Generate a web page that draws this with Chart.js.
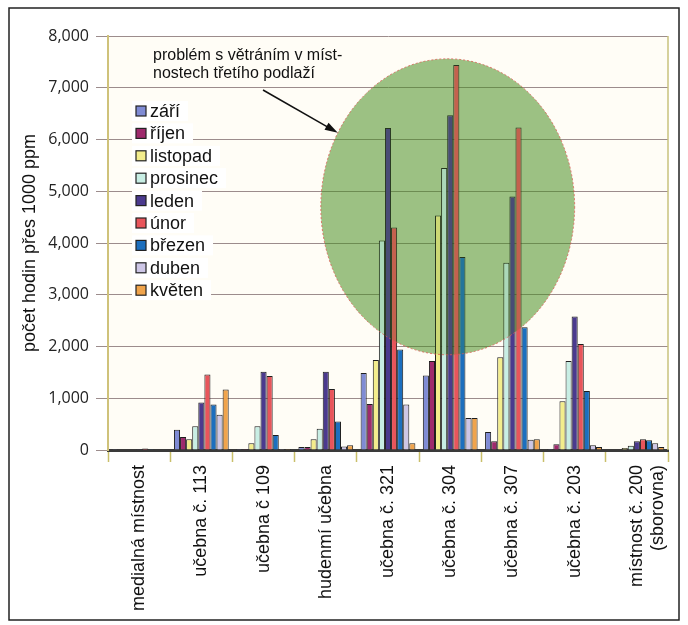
<!DOCTYPE html>
<html>
<head>
<meta charset="utf-8">
<script src="https://cdn.jsdelivr.net/npm/chart.js@4.4.0/dist/chart.umd.min.js"></script>
<style>
  body { margin: 0; background: #fff; }
  canvas { display: block; }
</style>
</head>
<body>
<canvas id="roomChart" width="688" height="625"></canvas>
<script>
// rooms on the x axis
const rooms = [
    'medialná místnost',
    'učebna č. 113',
    'učebna č 109',
    'hudenmí učebna',
    'učebna č. 321',
    'učebna č. 304',
    'učebna č. 307',
    'učebna č. 203',
    ['místnost č. 200', '(sborovna)'],
];

const months = ['září', 'říjen', 'listopad', 'prosinec', 'leden', 'únor', 'březen', 'duben', 'květen'];

// hours over 1000 ppm, one array per month
const zari     = [15, 390, 20, 60, 1490, 1440, 350, 20, 10];
const rijen    = [10, 250, 20, 60, 890, 1720, 170, 110, 10];
const listopad = [10, 210, 130, 210, 1740, 4530, 1790, 940, 40];
const prosinec = [10, 460, 460, 410, 4050, 5450, 3620, 1720, 80];
const leden    = [15, 920, 1510, 1510, 6220, 6470, 4900, 2580, 170];
const unor     = [30, 1460, 1430, 1180, 4300, 7440, 6230, 2050, 210];
const brezen   = [15, 880, 290, 550, 1940, 3730, 2370, 1140, 190];
const duben    = [10, 680, 20, 70, 880, 620, 200, 90, 130];
const kveten   = [10, 1170, 20, 90, 130, 620, 210, 60, 60];

const yTicks = [0, 1000, 2000, 3000, 4000, 5000, 6000, 7000, 8000];

const seriesValues = [zari, rijen, listopad, prosinec, leden, unor, brezen, duben, kveten];
const seriesColors = ['#7f8bd4', '#9e2a6c', '#f3ed8c', '#c8eee4', '#4b3a8e', '#e8555b', '#1c6fbe', '#cdc6e6', '#f0a44c'];

const FONT = 'Arial, "Liberation Sans", sans-serif';

// background, plot wall and outer frame
const framePlugin = {
    id: 'frame',
    beforeDraw(chart) {
        const { ctx, chartArea: a } = chart;
        ctx.save();
        ctx.fillStyle = '#fff';
        ctx.fillRect(0, 0, chart.width, chart.height);
        ctx.fillStyle = '#fffdf6';
        ctx.fillRect(a.left, a.top, a.right - a.left, a.bottom - a.top);
        ctx.restore();
    },
    afterDraw(chart) {
        const ctx = chart.ctx;
        ctx.save();
        ctx.strokeStyle = '#222';
        ctx.lineWidth = 1.5;
        ctx.strokeRect(9, 8, chart.width - 18, chart.height - 13);
        ctx.restore();
    },
};

// green ellipse over the third-floor rooms: a wash behind the bars and a light tint over them
function ellipsePath(chart) {
    const { ctx, scales: { x, y } } = chart;
    const cx = x.getPixelForValue(4.96);
    const cy = y.getPixelForValue(4700);
    const rx = (x.getPixelForValue(1) - x.getPixelForValue(0)) * 2.04;
    const ry = y.getPixelForValue(0) - y.getPixelForValue(2860);
    ctx.beginPath();
    ctx.ellipse(cx, cy, rx, ry, 0, 0, Math.PI * 2);
    return { cx, cy, rx, ry };
}

const ellipsePlugin = {
    id: 'ellipse',
    beforeDatasetsDraw(chart) {
        const { ctx, chartArea: a } = chart;
        ctx.save();
        ctx.strokeStyle = '#c9c27c';
        ctx.lineWidth = 1.5;
        ctx.beginPath();
        ctx.moveTo(a.right, a.top);
        ctx.lineTo(a.right, a.bottom);
        ctx.stroke();
        ellipsePath(chart);
        ctx.fillStyle = 'rgba(70, 140, 30, 0.4)';
        ctx.fill();
        ctx.restore();
    },
    afterDatasetsDraw(chart) {
        const ctx = chart.ctx;
        ctx.save();
        chart.$ellipse = ellipsePath(chart);
        ctx.fillStyle = 'rgba(70, 140, 30, 0.22)';
        ctx.fill();
        ctx.setLineDash([2, 2]);
        ctx.strokeStyle = 'rgba(220, 90, 80, 0.8)';
        ctx.lineWidth = 1;
        ctx.stroke();
        ctx.restore();
    },
};

// note text, arrow and the legend inside the plot
const notePlugin = {
    id: 'note',
    afterDraw(chart) {
        const { ctx, chartArea: a } = chart;
        const e = chart.$ellipse;
        ctx.save();

        ctx.fillStyle = '#111';
        ctx.font = '16px ' + FONT;
        ctx.textBaseline = 'middle';
        ctx.fillText('problém s větráním v míst-', a.left + 45, a.top + 20);
        ctx.fillText('nostech třetího podlaží', a.left + 45, a.top + 38);

        // arrow
        const t = Math.PI / 6;
        const hx = e.cx - e.rx * Math.cos(t);
        const hy = e.cy - e.ry * Math.sin(t);
        const tx = a.left + 155;
        const ty = a.top + 54;
        const ang = Math.atan2(hy - ty, hx - tx);
        ctx.strokeStyle = '#111';
        ctx.lineWidth = 1.5;
        ctx.beginPath();
        ctx.moveTo(tx, ty);
        ctx.lineTo(hx - 10 * Math.cos(ang), hy - 10 * Math.sin(ang));
        ctx.stroke();
        ctx.fillStyle = '#111';
        ctx.beginPath();
        ctx.moveTo(hx, hy);
        ctx.lineTo(hx - 13 * Math.cos(ang) + 4 * Math.sin(ang), hy - 13 * Math.sin(ang) - 4 * Math.cos(ang));
        ctx.lineTo(hx - 13 * Math.cos(ang) - 4 * Math.sin(ang), hy - 13 * Math.sin(ang) + 4 * Math.cos(ang));
        ctx.closePath();
        ctx.fill();

        // legend
        ctx.font = '18px ' + FONT;
        const lx = a.left + 28;
        chart.data.datasets.forEach((ds, i) => {
            const cy = a.top + 75 + i * 22.4;
            const w = ctx.measureText(ds.label).width;
            ctx.fillStyle = '#fff';
            ctx.fillRect(lx - 4, cy - 10, w + 26, 20);
            ctx.fillStyle = ds.backgroundColor;
            ctx.fillRect(lx, cy - 5, 10, 10);
            ctx.strokeStyle = '#222';
            ctx.lineWidth = 1.2;
            ctx.strokeRect(lx, cy - 5, 10, 10);
            ctx.fillStyle = '#111';
            ctx.fillText(ds.label, lx + 14, cy + 1);
        });
        ctx.restore();
    },
};

const ctx = document.getElementById('roomChart').getContext('2d');
new Chart(ctx, {
    type: 'bar',
    data: {
        labels: rooms,
        datasets: months.map((m, i) => ({
            label: m,
            data: seriesValues[i],
            backgroundColor: seriesColors[i],
            borderColor: '#1e1e1e',
            borderWidth: 1,
            barPercentage: 1,
            categoryPercentage: 0.88,
        })),
    },
    options: {
        responsive: false,
        animation: false,
        devicePixelRatio: 1,
        layout: {
            padding: { left: 10, right: 20, top: 36, bottom: 0 },
        },
        plugins: {
            legend: { display: false },
            tooltip: { enabled: false },
        },
        scales: {
            x: {
                afterFit(scale) { scale.height = 175; },
                grid: {
                    drawOnChartArea: false,
                    tickLength: 12,
                    tickColor: '#c9bf6a',
                    tickWidth: 1.5,
                },
                border: { color: '#3a3a3a', width: 3 },
                ticks: {
                    autoSkip: false,
                    maxRotation: 90,
                    minRotation: 90,
                    padding: 3,
                    color: '#111',
                    font: { family: FONT, size: 18 },
                },
            },
            y: {
                min: 0,
                max: 8000,
                afterFit(scale) { scale.width = 98; },
                afterBuildTicks(scale) {
                    scale.ticks = yTicks.map(v => ({ value: v }));
                },
                grid: {
                    color: '#9c8c8c',
                    tickLength: 12,
                    tickColor: '#9c8c8c',
                },
                border: { color: '#cfc27a', width: 2 },
                ticks: {
                    padding: 7,
                    color: '#222',
                    font: { family: '"Open Sans", sans-serif', size: 16 },
                    callback: v => v.toLocaleString('en-US'),
                },
                title: {
                    display: true,
                    text: 'počet hodin přes 1000 ppm',
                    color: '#111',
                    font: { family: FONT, size: 18 },
                    padding: { top: 9, bottom: 0 },
                },
            },
        },
    },
    plugins: [framePlugin, ellipsePlugin, notePlugin],
});
</script>
</body>
</html>
